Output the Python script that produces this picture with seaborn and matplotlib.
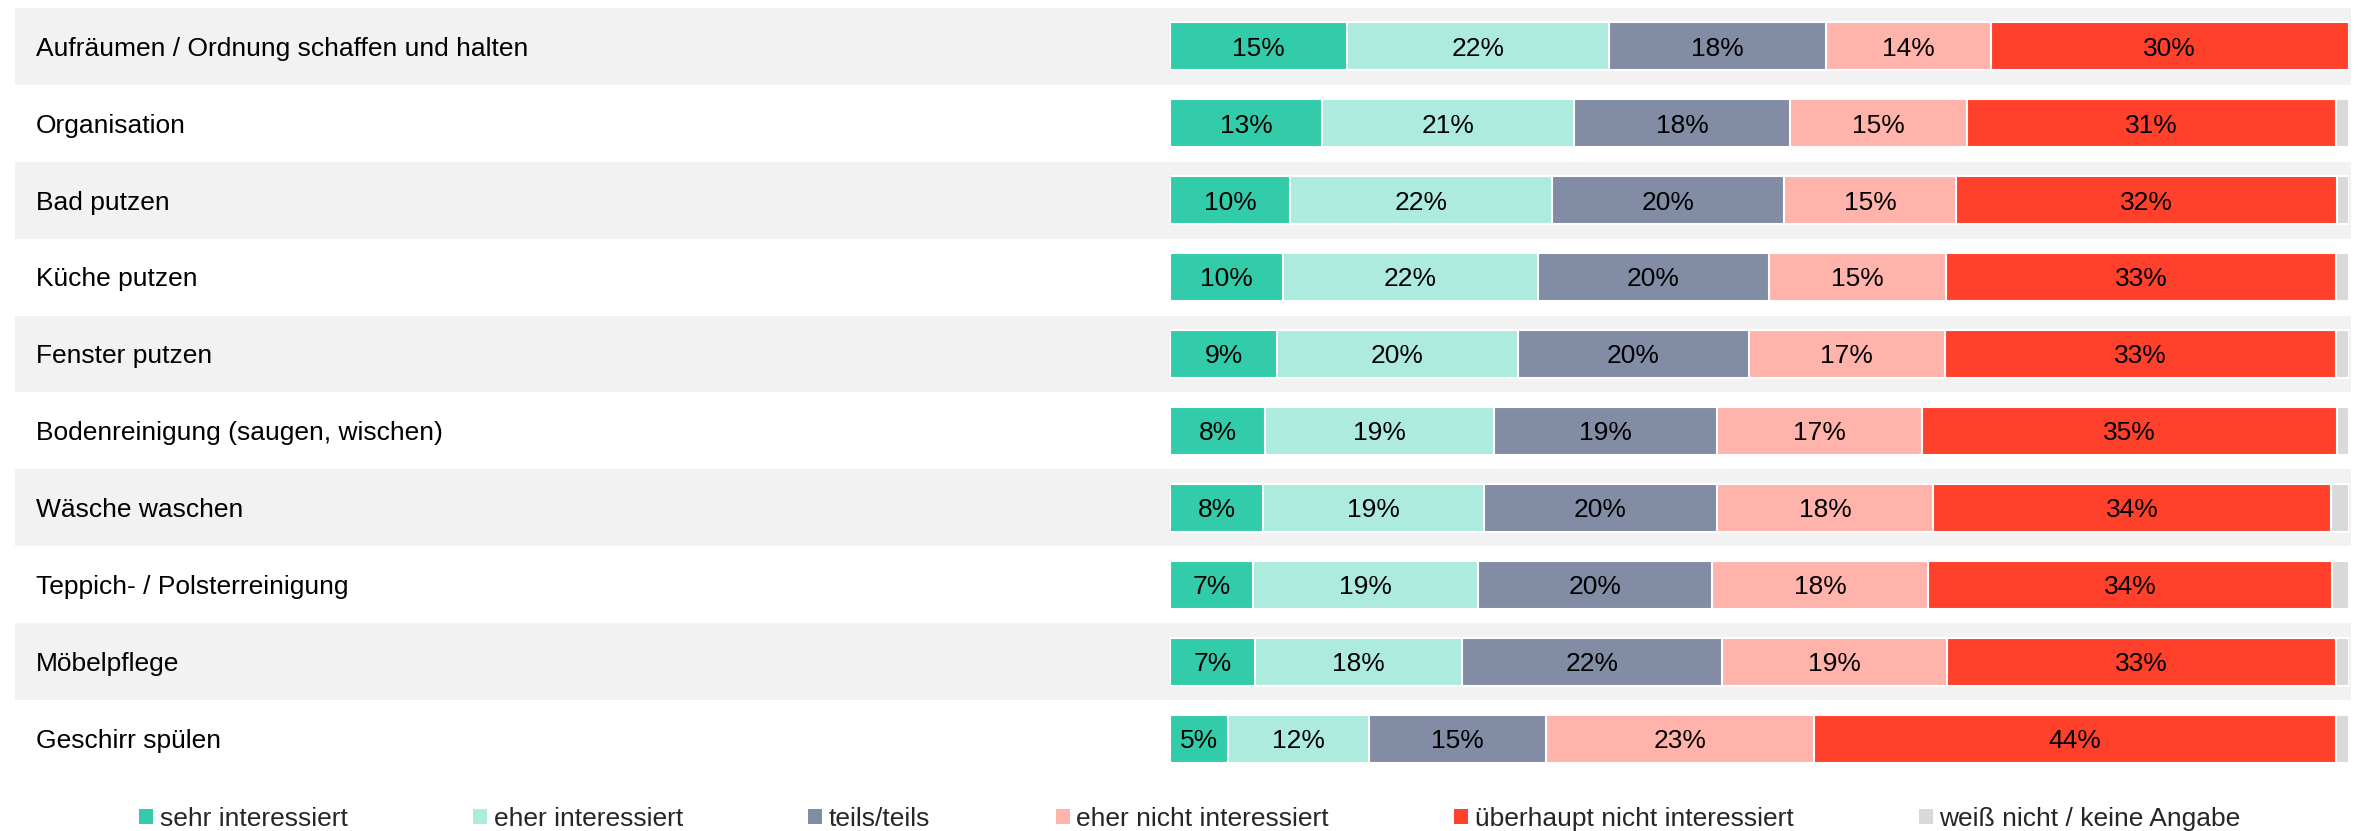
import numpy as np
import matplotlib
matplotlib.use("Agg")
import matplotlib.pyplot as plt
from matplotlib.patches import Patch
import seaborn as sns

sns.set_style("white")
plt.rcParams["font.family"] = ["Liberation Sans", "DejaVu Sans"]

# --------------------------------
# DATA
# --------------------------------
categories = [
    "Aufräumen / Ordnung schaffen und halten",
    "Organisation",
    "Bad putzen",
    "Küche putzen",
    "Fenster putzen",
    "Bodenreinigung (saugen, wischen)",
    "Wäsche waschen",
    "Teppich- / Polsterreinigung",
    "Möbelpflege",
    "Geschirr spülen",
]

series_names = [
    "sehr interessiert",
    "eher interessiert",
    "teils/teils",
    "eher nicht interessiert",
    "überhaupt nicht interessiert",
    "weiß nicht / keine Angabe",
]

sehr = [15.0, 12.9, 10.2, 9.6, 9.1, 8.1, 7.9, 7.0, 7.2, 4.9]
eher = [22.2, 21.4, 22.2, 21.6, 20.4, 19.4, 18.7, 19.1, 17.6, 12.0]
teils = [18.4, 18.3, 19.7, 19.6, 19.6, 18.9, 19.8, 19.9, 22.0, 15.0]
eher_nicht = [14.0, 15.0, 14.6, 15.0, 16.6, 17.4, 18.3, 18.3, 19.1, 22.7]
ueberhaupt = [30.4, 31.3, 32.3, 33.1, 33.2, 35.2, 33.8, 34.3, 33.0, 44.3]
weiss_nicht = [0.0, 1.1, 1.0, 1.1, 1.1, 1.0, 1.5, 1.4, 1.1, 1.1]

colors = ["#33CCAA", "#AEEBDF", "#828CA5", "#FFB3AB", "#FF412C", "#D9D9D9"]

values = np.array([sehr, eher, teils, eher_nicht, ueberhaupt, weiss_nicht])
cum = np.cumsum(values, axis=0)

# --------------------------------
# FIGURE
# --------------------------------
W, H = 2362, 831
fig = plt.figure(figsize=(W / 100, H / 100), dpi=100)

x0, x1 = 1170, 2349
top, bottom = 8, 777
ax = fig.add_axes([x0 / W, 1 - bottom / H, (x1 - x0) / W, (bottom - top) / H])

# alternating row bands
for i in range(len(categories)):
    if i % 2 == 0:
        ax.axhspan(i - 0.5, i + 0.5,
                   xmin=(15 - x0) / (x1 - x0), xmax=(2351 - x0) / (x1 - x0),
                   color="#F2F2F2", clip_on=False, zorder=0, lw=0)

# stacked bars: draw cumulative totals from the back
for k in reversed(range(len(series_names))):
    sns.barplot(
        x=cum[k],
        y=categories,
        orient="h",
        color=colors[k],
        saturation=1,
        width=0.625,
        edgecolor="white",
        linewidth=1.5,
        ax=ax,
        zorder=2,
    )

# percentage labels
dy = 0.03
for k in range(len(series_names) - 1):
    for i in range(len(categories)):
        v = values[k, i]
        ax.text(cum[k, i] - v / 2, i + dy, f"{round(v)}%",
                ha="center", va="center", fontsize=19, color="black", zorder=3)

# row labels
for i, cat in enumerate(categories):
    ax.text((36 - x0) / (x1 - x0), i + dy, cat, transform=ax.get_yaxis_transform(),
            ha="left", va="center", fontsize=19, color="black")

ax.set_xlim(0, 100)
ax.set_ylim(len(categories) - 0.5, -0.5)
ax.axis("off")

handles = [Patch(facecolor=c, edgecolor="none") for c in colors]
fig.legend(
    handles, series_names,
    loc="center",
    bbox_to_anchor=(1190 / W, 1 - 819 / H),
    ncol=6,
    frameon=False,
    fontsize=19,
    handlelength=0.53,
    handleheight=0.53,
    handletextpad=0.25,
    columnspacing=4.75,
    borderaxespad=0,
)

plt.savefig("out.png", dpi=100)
